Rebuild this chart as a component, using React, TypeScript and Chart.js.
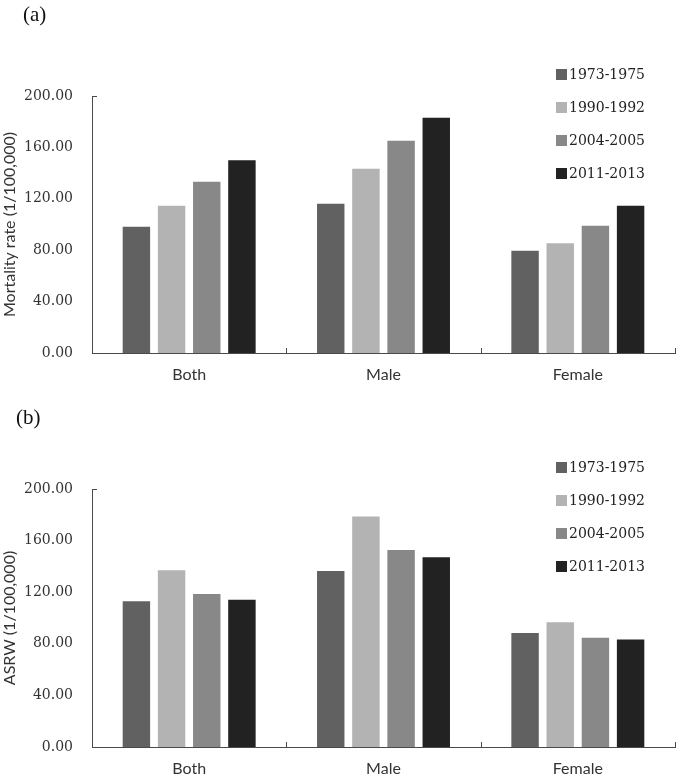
import React, { useEffect, useRef } from "react";
import { Chart, registerables } from "chart.js";

Chart.register(...registerables);

const categories = ["Both", "Male", "Female"];
const periods = ["1973-1975", "1990-1992", "2004-2005", "2011-2013"];
const periodColors = ["#616161", "#b3b3b3", "#888888", "#222222"];

// (a) Mortality rate (1/100,000)
const mortality1973 = [98.2, 116.2, 79.6];
const mortality1990 = [114.6, 143.4, 85.4];
const mortality2004 = [133.3, 165.2, 99.1];
const mortality2011 = [150.0, 183.0, 114.6];

// (b) ASRW (1/100,000)
const asrw1973 = [112.9, 136.4, 88.3];
const asrw1990 = [137.0, 178.6, 96.8];
const asrw2004 = [118.6, 152.7, 84.6];
const asrw2011 = [114.1, 147.0, 83.4];

const yMin = 0;
const yMax = 200;
const yStep = 40;

const AXIS_COLOR = "#4a4a4a";
const SERIF = '"DejaVu Serif", serif';
const SANS = 'Lato, "Liberation Sans", sans-serif';

const innerTicksPlugin = {
  id: "innerTicks",
  afterDraw(chart: any) {
    const { ctx, chartArea, scales } = chart;
    const xs = scales.x;
    ctx.save();
    ctx.strokeStyle = AXIS_COLOR;
    ctx.lineWidth = 1;
    const n = chart.data.labels.length;
    for (let i = 1; i <= n; i++) {
      let x;
      if (i < n) x = (xs.getPixelForTick(i - 1) + xs.getPixelForTick(i)) / 2;
      else x = chartArea.right;
      x = Math.round(x) + 0.5;
      ctx.beginPath();
      ctx.moveTo(x, chartArea.bottom);
      ctx.lineTo(x, chartArea.bottom - 5);
      ctx.stroke();
    }
    const yTop = Math.round(chartArea.top) + 0.5;
    ctx.beginPath();
    ctx.moveTo(chartArea.left, yTop);
    ctx.lineTo(chartArea.left + 5, yTop);
    ctx.stroke();
    ctx.restore();
  },
};

const sideLegendPlugin = {
  id: "sideLegend",
  afterDraw(chart: any) {
    const { ctx, chartArea } = chart;
    const x0 = chartArea.right - 119;
    const y0 = chartArea.top - 22;
    ctx.save();
    ctx.font = `14px ${SERIF}`;
    ctx.textBaseline = "middle";
    ctx.textAlign = "left";
    chart.data.datasets.forEach((ds: any, i: number) => {
      const y = y0 + i * 33;
      ctx.fillStyle = ds.backgroundColor;
      ctx.fillRect(x0, Math.round(y - 5.5), 11, 11);
      ctx.fillStyle = "#222";
      ctx.fillText(ds.label, x0 + 13, y + 1);
    });
    ctx.restore();
  },
};

type PanelProps = {
  series: number[][];
  yTitle: string;
  padTop: number;
  xHeight: number;
  xPad: number;
};

function BarPanel({ series, yTitle, padTop, xHeight, xPad }: PanelProps) {
  const ref = useRef<HTMLCanvasElement | null>(null);

  useEffect(() => {
    if (!ref.current) return;
    const chart = new Chart(ref.current, {
      type: "bar",
      data: {
        labels: categories,
        datasets: periods.map((p, i) => ({
          label: p,
          data: series[i],
          backgroundColor: periodColors[i],
          borderWidth: 0,
          categoryPercentage: 0.724,
          barPercentage: 0.78,
        })),
      },
      options: {
        responsive: false,
        animation: false,
        layout: { padding: { top: padTop, right: 10, bottom: 0, left: 0 } },
        plugins: {
          legend: { display: false },
          tooltip: { enabled: false },
          title: { display: false },
        },
        scales: {
          x: {
            grid: { display: false, drawTicks: false },
            border: { display: true, color: AXIS_COLOR, width: 1 },
            ticks: {
              padding: xPad,
              color: "#333",
              font: { family: SANS, size: 16 },
            },
            afterFit: (s: any) => {
              s.height = xHeight;
            },
          },
          y: {
            min: yMin,
            max: yMax,
            grid: { display: false, drawTicks: false },
            border: { display: true, color: AXIS_COLOR, width: 1 },
            ticks: {
              stepSize: yStep,
              padding: 19,
              color: "#333",
              font: { family: SERIF, size: 14 },
              callback: (v: any) => Number(v).toFixed(2),
            },
            title: {
              display: true,
              text: yTitle,
              color: "#333",
              font: { family: SANS, size: 16 },
              padding: { top: 0, bottom: 0 },
            },
            afterFit: (s: any) => {
              s.width = 92;
            },
          },
        },
      },
      plugins: [innerTicksPlugin, sideLegendPlugin],
    });
    return () => chart.destroy();
  }, [series, yTitle, padTop, xHeight, xPad]);

  return <canvas ref={ref} width={685} height={390} style={{ display: "block" }} />;
}

export default function App() {
  return (
    <div
      style={{
        position: "absolute",
        left: 0,
        top: 0,
        width: 685,
        height: 780,
        background: "#fff",
        overflow: "hidden",
      }}
    >
      <div style={{ position: "relative", width: 685, height: 390 }}>
        <BarPanel
          series={[mortality1973, mortality1990, mortality2004, mortality2011]}
          yTitle="Mortality rate (1/100,000)"
          padTop={96}
          xHeight={37}
          xPad={12}
        />
        <div
          style={{
            position: "absolute",
            left: 23,
            top: 2,
            fontFamily: '"Liberation Serif", serif',
            fontSize: 21,
            color: "#111",
          }}
        >
          (a)
        </div>
      </div>
      <div style={{ position: "relative", width: 685, height: 390 }}>
        <BarPanel
          series={[asrw1973, asrw1990, asrw2004, asrw2011]}
          yTitle="ASRW (1/100,000)"
          padTop={99}
          xHeight={33}
          xPad={12}
        />
        <div
          style={{
            position: "absolute",
            left: 16,
            top: 15,
            fontFamily: '"Liberation Serif", serif',
            fontSize: 21,
            color: "#111",
          }}
        >
          (b)
        </div>
      </div>
    </div>
  );
}
